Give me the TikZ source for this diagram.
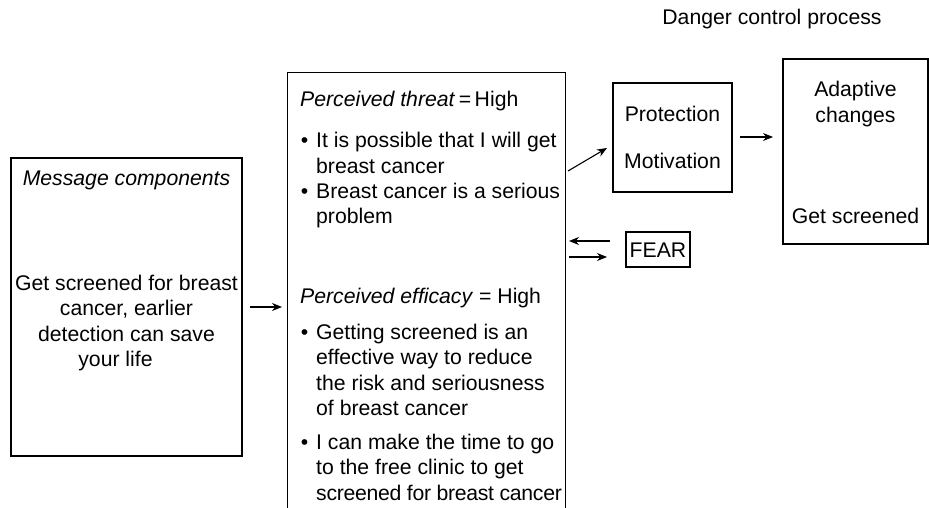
\documentclass[tikz,border=0pt]{standalone}
\usepackage{fontspec}
\setmainfont{Liberation Sans}
\usetikzlibrary{arrows.meta}

\tikzset{
  box/.style={draw, line width=1.2pt, inner sep=0pt},
  txt/.style={inner sep=0pt, font=\fontsize{21.2pt}{25.5pt}\selectfont},
  link/.style={line width=1.1pt, -{Stealth[length=10pt,width=8pt]}}
}
% a bulleted item whose first baseline sits at the node anchor
\newcommand\bitem[1]{\parbox[t]{300pt}{\raggedright\leavevmode\llap{\textbullet\hspace{8pt}}#1}}

\begin{document}
\begin{tikzpicture}[x=1pt,y=-1pt]
\useasboundingbox (0,0) rectangle (929,508);

% title
\node[txt, anchor=base] (title) at (772,25) {Danger control process};

% message box
\node[box, minimum width=231pt, minimum height=298pt] (msg) at (126.5,307) {};
\node[txt, anchor=base] (msgh) at (126.5,185) {\itshape Message components};
\node[txt, anchor=base] (msgb) at (126.5,290) {\parbox[t]{228pt}{\centering
  Get screened for breast\\
  cancer, earlier\hspace*{19pt}\\
  detection can save\\
  your life\hspace*{22pt}}};

% appraisal box, open at the bottom
\node[inner sep=0pt, minimum width=277pt, minimum height=435pt] (app) at (426.5,290.5) {};
\draw[line width=1.2pt] (app.south west) |- (app.north east) -- (app.south east);

\node[txt, anchor=base west] (thr) at (300,107) {\textit{Perceived threat}\,=\,High};
\node[txt, anchor=base west] (thr1) at (316,148) {\bitem{It is possible that I will get\\breast cancer}};
\node[txt, anchor=base west] (thr2) at (316,198) {\bitem{Breast cancer is a serious\\problem}};

\node[txt, anchor=base west] (eff) at (300,303) {\textit{Perceived efficacy} = High};
\node[txt, anchor=base west] (eff1) at (316,339) {\bitem{Getting screened is an\\effective way to reduce\\the risk and seriousness\\of breast cancer}};
\node[txt, anchor=base west] (eff2) at (316,449) {\bitem{I can make the time to go\\to the free clinic to get\\{\addfontfeature{LetterSpace=-1.4}screened for breast cancer}}};

% protection motivation
\node[box, minimum width=119pt, minimum height=109pt] (pm) at (672.5,137.5) {};
\node[txt, anchor=base] (pm1) at (672.5,122) {Protection};
\node[txt, anchor=base] (pm2) at (672.5,168) {Motivation};

% adaptive changes
\node[box, minimum width=145pt, minimum height=185pt] (ad) at (855.5,151.5) {};
\node[txt, anchor=base] (ad1) at (855.5,97) {\parbox[t]{140pt}{\centering Adaptive\\changes}};
\node[txt, anchor=base] (ad2) at (855.5,223) {Get screened};

% fear
\node[box, minimum width=64pt, minimum height=35pt] (fear) at (658,249.5) {};
\node[txt, anchor=base] (fearT) at (658,257.5) {FEAR};

% connectors
\coordinate (m1) at (250,307);
\coordinate (m2) at (282,307);
\draw[link] (m1) -- (m2);

\coordinate (d1) at (568,171);
\coordinate (d2) at (607,148);
\draw[link] (d1) -- (d2);

\coordinate (p1) at (740,137);
\coordinate (p2) at (773,137);
\draw[link] (p1) -- (p2);

\coordinate (f1) at (610,241);
\coordinate (f2) at (569,241);
\draw[link] (f1) -- (f2);
\coordinate (f3) at (569,257);
\coordinate (f4) at (607,257);
\draw[link] (f3) -- (f4);
\end{tikzpicture}
\end{document}
